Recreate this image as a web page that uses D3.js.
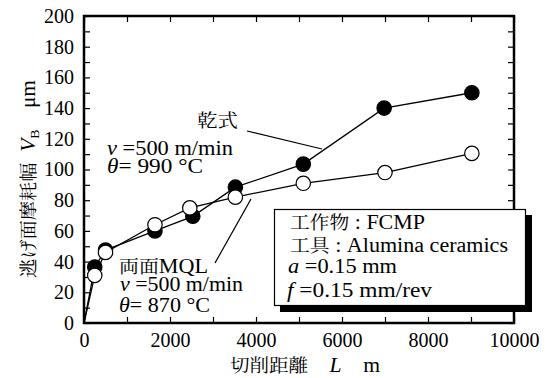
<!DOCTYPE html>
<html>
<head>
<meta charset="utf-8">
<script src="https://cdn.jsdelivr.net/npm/d3@7"></script>
</head>
<body style="margin:0;background:#fff">
<svg id="chart" width="550" height="378" style="display:block"></svg>
<script>
// cutting distance (m)
const dryDist = [0, 250, 500, 1650, 2530, 3520, 5100, 6980, 9020]
const dryWear = [0, 36.5, 47.5, 60, 69.5, 88.5, 103.5, 140, 150]
const mqlDist = [0, 250, 500, 1650, 2460, 3520, 5100, 7000, 9020]
const mqlWear = [0, 31, 46, 64, 75, 82, 91, 98, 110.5]
const xTicks = [0, 2000, 4000, 6000, 8000, 10000]
const yTicks = [0, 20, 40, 60, 80, 100, 120, 140, 160, 180, 200]

const margin = { top: 16, right: 36, bottom: 55, left: 84 }
const width = 550, height = 378
const serif = "'Liberation Serif'"
const jpFont = "'Noto Serif CJK JP'"

const svg = d3.select('#chart')

let x = d3.scaleLinear()
  .domain([0, 10000])
  .range([margin.left, width - margin.right])

let y = d3.scaleLinear()
  .domain([0, 200])
  .range([height - margin.bottom, margin.top])

// axes, ticks pointing inwards
svg.append('g')
  .attr('transform', `translate(0,${y(0)})`)
  .call(d3.axisBottom(x).tickValues(d3.range(0, 10001, 1000)).tickSize(-6).tickSizeOuter(0).tickFormat(''))
svg.append('g')
  .attr('transform', `translate(0,${y(0)})`)
  .call(d3.axisBottom(x).tickValues(xTicks).tickSize(0).tickPadding(10).tickFormat(d3.format('d')))
svg.append('g')
  .attr('transform', `translate(0,${y(200)})`)
  .call(d3.axisTop(x).tickValues(d3.range(0, 10001, 1000)).tickSize(-6).tickSizeOuter(0).tickFormat(''))
svg.append('g')
  .attr('transform', `translate(${x(0)},0)`)
  .call(d3.axisLeft(y).tickValues(d3.range(0, 201, 10)).tickSize(-6).tickSizeOuter(0).tickFormat(''))
svg.append('g')
  .attr('transform', `translate(${x(0)},0)`)
  .call(d3.axisLeft(y).tickValues(yTicks).tickSize(0).tickPadding(10))
svg.append('g')
  .attr('transform', `translate(${x(10000)},0)`)
  .call(d3.axisRight(y).tickValues(d3.range(0, 201, 10)).tickSize(-6).tickSizeOuter(0).tickFormat(''))

svg.selectAll('.domain').remove()
svg.selectAll('.tick line').attr('stroke', '#000').attr('stroke-width', 1.2)
svg.selectAll('.tick text').style('font-family', serif).style('font-size', '20px').attr('fill', '#000')

// frame
svg.append('rect')
  .attr('x', x(0)).attr('y', y(200))
  .attr('width', x(10000) - x(0)).attr('height', y(0) - y(200))
  .attr('fill', 'none').attr('stroke', '#000').attr('stroke-width', 2.5)

let line = d3.line().x(d => x(d[0])).y(d => y(d[1]))
const dry = d3.zip(dryDist, dryWear)
const mql = d3.zip(mqlDist, mqlWear)

svg.append('path').datum(dry).attr('d', line)
  .attr('fill', 'none').attr('stroke', '#000').attr('stroke-width', 1.3)
svg.append('path').datum(mql).attr('d', line)
  .attr('fill', 'none').attr('stroke', '#000').attr('stroke-width', 1.3)

svg.append('g').selectAll('circle')
  .data(dry.slice(1))
  .enter()
  .append('circle')
  .attr('cx', d => x(d[0])).attr('cy', d => y(d[1])).attr('r', 7.2)
  .attr('fill', '#000').attr('stroke', '#000').attr('stroke-width', 1.2)
svg.append('g').selectAll('circle')
  .data(mql.slice(1))
  .enter()
  .append('circle')
  .attr('cx', d => x(d[0])).attr('cy', d => y(d[1])).attr('r', 7.2)
  .attr('fill', '#fff').attr('stroke', '#000').attr('stroke-width', 1.2)

// one line of text made of parts: [string, kind] kind = 'jp' | 'it' | 'sub' | 'up' | ''
function label(g, xp, yp, parts, len) {
  let t = g.append('text').attr('x', xp).attr('y', yp)
    .style('font-family', serif).style('font-size', '20px')
  parts.forEach(p => {
    let s = t.append('tspan').text(p[0])
    if (p[1] === 'jp') s.style('font-family', jpFont).style('font-size', '18px')
    if (p[1] === 'it') s.style('font-style', 'italic')
    if (p[1] === 'sub') s.style('font-size', '13px').attr('dy', 4)
    if (p[1] === 'up') s.attr('dy', -4)
  })
  if (len) t.attr('textLength', len).attr('lengthAdjust', 'spacingAndGlyphs')
  return t
}

// annotations
let ann = svg.append('g')

label(ann, 197, 127, [['乾式', 'jp']], 41)
ann.append('line').attr('x1', 247).attr('y1', 131).attr('x2', 322).attr('y2', 149)
  .attr('stroke', '#000').attr('stroke-width', 1.2)
label(ann, 107, 155, [['v', 'it'], [' =500 m/min', '']], 126)
label(ann, 107, 173, [['θ', 'it'], ['= 990 °C', '']], 96)

label(ann, 119, 273, [['両面', 'jp'], ['MQL', '']], 89)
ann.append('line').attr('x1', 251).attr('y1', 199).attr('x2', 215).attr('y2', 263)
  .attr('stroke', '#000').attr('stroke-width', 1.2)
label(ann, 120, 291, [['v', 'it'], [' =500 m/min', '']], 123)
label(ann, 119, 312, [['θ', 'it'], ['= 870 °C', '']], 91)

// condition box with shadow
let box = svg.append('g')
box.append('rect').attr('x', 280).attr('y', 215).attr('width', 252).attr('height', 97).attr('fill', '#000')
box.append('rect').attr('x', 274.5).attr('y', 209.5).attr('width', 251).attr('height', 96)
  .attr('fill', '#fff').attr('stroke', '#000').attr('stroke-width', 1.2)
label(box, 290, 229, [['工作物', 'jp'], [' : FCMP', '']], 135)
label(box, 290, 252, [['工具', 'jp'], [' : Alumina ceramics', '']], 218)
label(box, 288, 273, [['a', 'it'], [' =0.15 mm', '']], 109)
label(box, 287, 297, [['f', 'it'], [' =0.15 mm/rev', '']], 145)

// axis titles
label(svg, 230, 372, [['切削距離', 'jp'], ['\u2002\u2002', ''], ['L', 'it'], ['\u2002\u2002m', '']], 150)

let yl = svg.append('g').attr('transform', 'translate(35,278) rotate(-90)')
label(yl, 0, 0, [['逃げ面摩耗幅', 'jp'], ['\u2002', ''], ['V', 'it'], ['B', 'sub'], ['\u2002\u2002', 'up'], ['μm', '']], 198)
</script>
</body>
</html>
